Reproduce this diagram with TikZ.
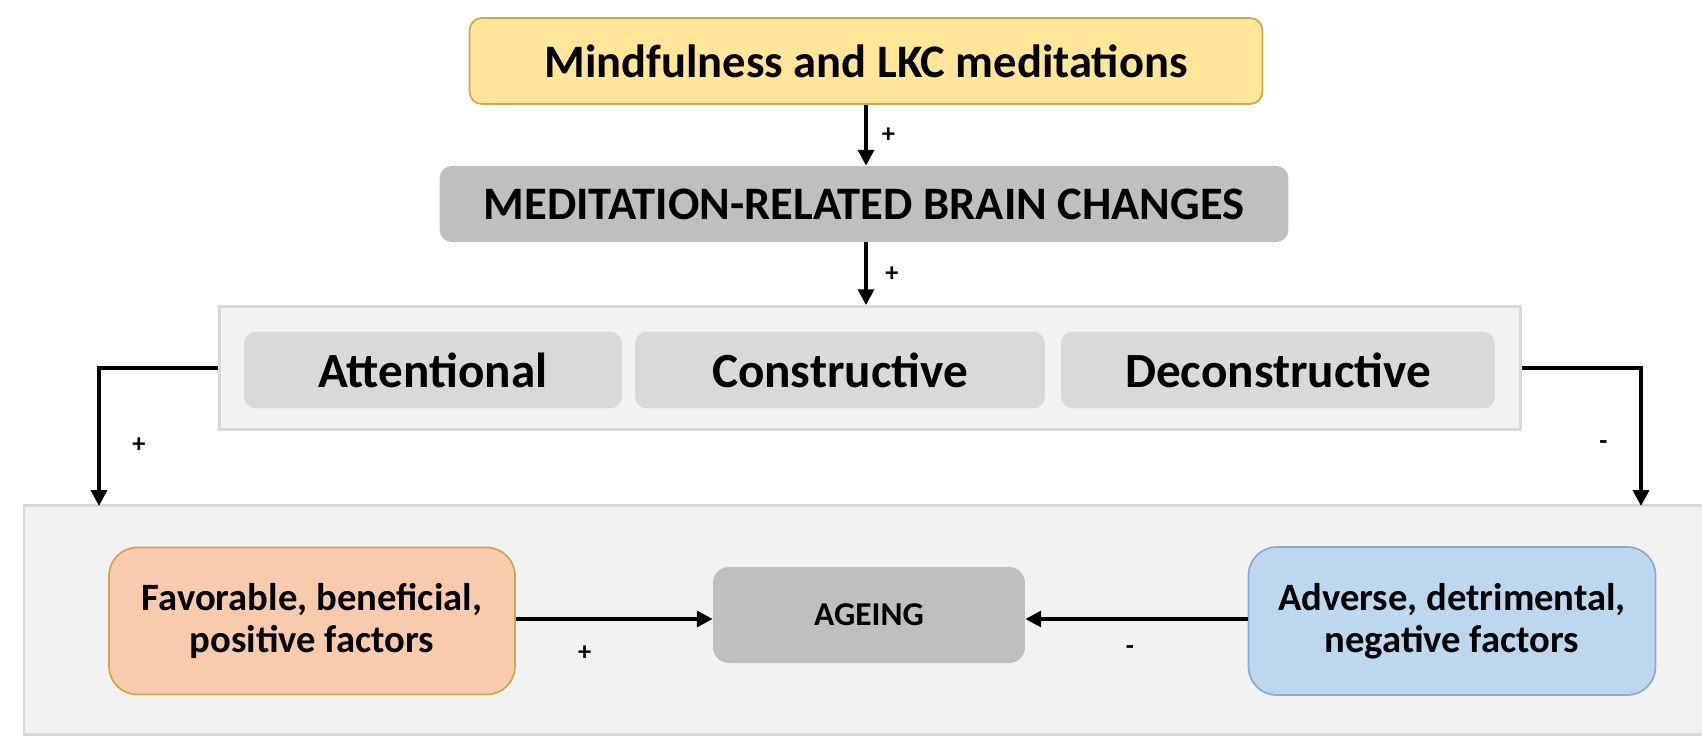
\documentclass[tikz,border=0pt]{standalone}
\usepackage{fontspec}
\setmainfont{Carlito}
\usetikzlibrary{arrows.meta}
\definecolor{medyellow}{HTML}{FFE699}
\definecolor{goldline}{HTML}{CDAA4E}
\definecolor{changegray}{HTML}{BFBFBF}
\definecolor{panelgray}{HTML}{F2F2F2}
\definecolor{panelline}{HTML}{D9D9D9}
\definecolor{kindgray}{HTML}{D9D9D9}
\definecolor{favorange}{HTML}{F8CBAD}
\definecolor{advblue}{HTML}{BDD7EE}
\definecolor{advline}{HTML}{8FAACF}

\begin{document}
\begin{tikzpicture}[x=0.02cm, y=-0.02cm,
        box/.style = {rounded corners=7pt, font=\bfseries, align=center, inner sep=0pt},
        kind/.style = {box, fill=kindgray, minimum height=1.54cm, font=\bfseries\fontsize{28}{32}\selectfont},
        arr/.style = {-{Triangle[length=9pt, width=9pt]}, line width=2.1pt},
        sign/.style = {font=\bfseries\fontsize{15}{15}\selectfont, inner sep=1pt}]
    \useasboundingbox (0,0) rectangle (1702,737);
    \node[box, rounded corners=0pt, fill=panelgray, draw=panelline, line width=1.2pt, minimum width=33.76cm, minimum height=4.58cm] at (868,620) (ground) {};

    \node[box, fill=medyellow, draw=goldline, line width=1pt, minimum width=15.86cm, minimum height=1.72cm, font=\bfseries\fontsize{26.5}{30}\selectfont] at (866,61) (med) {Mindfulness and LKC meditations};
    \node[box, fill=changegray, minimum width=16.98cm, minimum height=1.52cm, font=\bfseries\fontsize{26.5}{30}\selectfont] at (864,204) (brain) {MEDITATION-RELATED BRAIN CHANGES};

    \node[box, rounded corners=0pt, fill=panelgray, draw=panelline, line width=1.5pt, minimum width=26.02cm, minimum height=2.46cm] at (870,368) (panel) {};
    \node[kind, minimum width=7.56cm] at (433,370) (att) {Attentional};
    \node[kind, minimum width=8.2cm] at (840,370) (con) {Constructive};
    \node[kind, minimum width=8.68cm] at (1278,370) (decon) {Deconstructive};

    \node[box, rounded corners=16pt, fill=favorange, draw=goldline, line width=1pt, minimum width=8.12cm, minimum height=2.94cm, font=\bfseries\fontsize{22}{24}\selectfont] at (312,621) (fav) {Favorable, beneficial,\\positive factors};
    \node[box, rounded corners=9pt, fill=changegray, minimum width=6.24cm, minimum height=1.92cm, font=\bfseries\fontsize{19}{22}\selectfont] at (869,615) (age) {AGEING};
    \node[box, rounded corners=16pt, fill=advblue, draw=advline, line width=1pt, minimum width=8.14cm, minimum height=2.96cm, font=\bfseries\fontsize{22}{24}\selectfont] at (1452,621) (adv) {Adverse, detrimental,\\negative factors};

    \coordinate (lefttip) at (99,506);
    \coordinate (righttip) at (1641,506);
    \coordinate (stem) at (866,0);

    \draw[arr] (stem |- med.south) -- (stem |- brain.north) node[midway, right=7pt, sign] {+};
    \draw[arr] (stem |- brain.south) -- (stem |- panel.north) node[midway, right=9pt, sign] {+};
    \draw[arr] (panel.west) -| (lefttip) node[pos=0.78, right=17pt, sign] {+};
    \draw[arr] (panel.east) -| (righttip) node[pos=0.78, left=17pt, sign] {-};
    \draw[arr] (fav.east |- 0,619) -- (age.west |- 0,619) node[pos=0.35, below=13pt, sign] {+};
    \draw[arr] (adv.west |- 0,619) -- (age.east |- 0,619) node[pos=0.53, below=13pt, sign] {-};
\end{tikzpicture}
\end{document}
